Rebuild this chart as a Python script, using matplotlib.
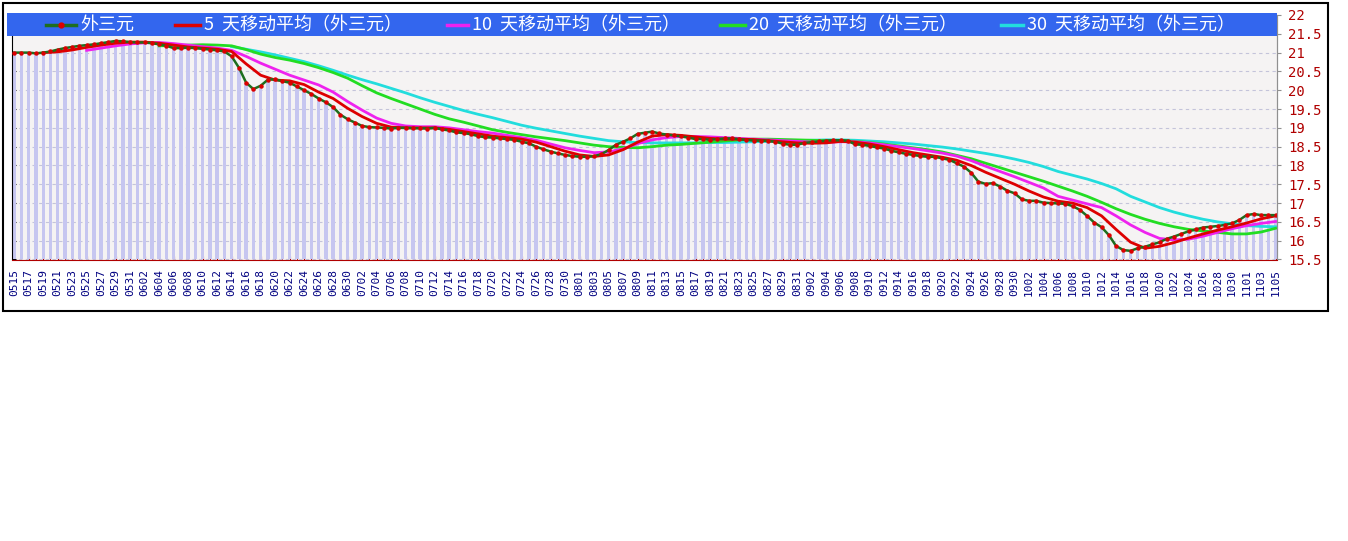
import numpy as np
import pandas as pd
import matplotlib
matplotlib.use('Agg')
import matplotlib.pyplot as plt
from matplotlib.patches import Rectangle
from matplotlib.lines import Line2D

plt.rcParams['font.family'] = ['Noto Sans CJK SC', 'DejaVu Sans']

# 日期 0515 ~ 1105，逐日
dates = pd.date_range('2020-05-15', '2020-11-05', freq='D')
date_labels = [d.strftime('%m%d') for d in dates]

# 外三元 日价格
price = [21.0, 21.0, 21.0, 20.98, 21.0, 21.03, 21.08, 21.12, 21.15, 21.18,
         21.2, 21.22, 21.25, 21.28, 21.31, 21.3, 21.28, 21.27, 21.27, 21.25,
         21.22, 21.18, 21.12, 21.12, 21.13, 21.12, 21.1, 21.08, 21.06, 21.03,
         20.9, 20.6, 20.2, 20.03, 20.12, 20.28, 20.29, 20.24, 20.2, 20.1,
         20.0, 19.9, 19.78, 19.68, 19.55, 19.35, 19.23, 19.14, 19.05, 19.02,
         19.01, 19.0, 18.98, 19.0, 19.0, 18.99, 18.99, 18.98, 19.0, 18.96,
         18.93, 18.88, 18.86, 18.83, 18.78, 18.75, 18.74, 18.72, 18.7, 18.68,
         18.63, 18.59, 18.5, 18.43, 18.37, 18.32, 18.28, 18.25, 18.23, 18.23,
         18.25, 18.3, 18.41, 18.55, 18.63, 18.72, 18.84, 18.87, 18.9, 18.85,
         18.82, 18.8, 18.77, 18.74, 18.7, 18.7, 18.68, 18.7, 18.72, 18.72,
         18.7, 18.68, 18.66, 18.66, 18.65, 18.63, 18.58, 18.55, 18.55, 18.6,
         18.62, 18.64, 18.66, 18.67, 18.67, 18.66, 18.56, 18.55, 18.52, 18.48,
         18.45, 18.39, 18.35, 18.31, 18.28, 18.25, 18.23, 18.23, 18.19, 18.15,
         18.06, 17.97, 17.81, 17.57, 17.51, 17.53, 17.44, 17.33, 17.26, 17.1,
         17.06, 17.06, 17.01, 17.0, 16.99, 16.98, 16.92, 16.82, 16.66, 16.48,
         16.36, 16.15, 15.86, 15.75, 15.73, 15.8, 15.84, 15.9, 15.96, 16.05,
         16.11, 16.18, 16.25, 16.3, 16.35, 16.37, 16.39, 16.42, 16.46, 16.55,
         16.68, 16.71, 16.68, 16.68, 16.68]

# 移动平均线 (隔日估读)
ma5_start = 4
ma5 = [21.0, 21.02, 21.07, 21.14, 21.2, 21.25, 21.28, 21.28, 21.25, 21.2,
       21.15, 21.12, 21.09, 21.03, 20.7, 20.4, 20.27, 20.25, 20.15, 19.95,
       19.78, 19.52, 19.3, 19.12, 19.02, 19.0, 19.0, 19.0, 18.96, 18.9,
       18.84, 18.78, 18.74, 18.7, 18.62, 18.5, 18.38, 18.28, 18.24, 18.28,
       18.42, 18.62, 18.78, 18.82, 18.8, 18.76, 18.72, 18.7, 18.7, 18.69,
       18.66, 18.63, 18.6, 18.59, 18.6, 18.64, 18.62, 18.57, 18.5, 18.42,
       18.34, 18.28, 18.22, 18.14, 18.0, 17.82, 17.66, 17.5, 17.32, 17.16,
       17.05, 17.0, 16.88, 16.66, 16.3, 15.96, 15.8, 15.85, 15.95, 16.07,
       16.18, 16.28, 16.37, 16.47, 16.58, 16.66]

ma10_start = 10
ma10 = [21.06, 21.12, 21.18, 21.23, 21.26, 21.27, 21.24, 21.2, 21.16, 21.12,
        21.06, 20.9, 20.72, 20.56, 20.4, 20.27, 20.14, 19.95, 19.7, 19.47,
        19.26, 19.12, 19.05, 19.03, 19.03, 19.0, 18.95, 18.9, 18.86, 18.8,
        18.74, 18.67, 18.57, 18.47, 18.4, 18.34, 18.36, 18.44, 18.58, 18.68,
        18.74, 18.77, 18.77, 18.76, 18.74, 18.72, 18.7, 18.68, 18.66, 18.64,
        18.62, 18.62, 18.63, 18.63, 18.6, 18.55, 18.5, 18.45, 18.39, 18.33,
        18.25, 18.13, 17.98, 17.84, 17.7, 17.55, 17.4, 17.18, 17.08, 16.98,
        16.88, 16.66, 16.42, 16.22, 16.06, 16.02, 16.04, 16.12, 16.22, 16.32,
        16.4, 16.46, 16.51]

ma20_start = 20
ma20 = [21.18, 21.19, 21.2, 21.21, 21.2, 21.18, 21.08, 20.96, 20.87, 20.8,
        20.71, 20.6, 20.47, 20.32, 20.12, 19.93, 19.78, 19.64, 19.5, 19.36,
        19.24, 19.15, 19.05, 18.95, 18.88, 18.82, 18.76, 18.71, 18.66, 18.6,
        18.54, 18.5, 18.48, 18.47, 18.5, 18.54, 18.56, 18.59, 18.62, 18.65,
        18.68, 18.7, 18.7, 18.69, 18.68, 18.67, 18.66, 18.66, 18.64, 18.61,
        18.57, 18.52, 18.47, 18.42, 18.36, 18.27, 18.18, 18.06, 17.94, 17.82,
        17.7, 17.58, 17.45, 17.32, 17.18, 17.02, 16.85, 16.7, 16.57, 16.46,
        16.37, 16.3, 16.26, 16.22, 16.18, 16.18, 16.23, 16.33]

ma30_start = 30
ma30 = [21.16, 21.09, 21.02, 20.94, 20.85, 20.76, 20.65, 20.53, 20.4, 20.28,
        20.17, 20.05, 19.93, 19.8, 19.68, 19.57, 19.46, 19.36, 19.27, 19.17,
        19.07, 18.99, 18.92, 18.85, 18.78, 18.72, 18.66, 18.63, 18.61, 18.6,
        18.6, 18.6, 18.6, 18.61, 18.61, 18.62, 18.63, 18.64, 18.65, 18.66,
        18.67, 18.68, 18.68, 18.67, 18.65, 18.63, 18.6, 18.57, 18.53, 18.49,
        18.44, 18.38, 18.32, 18.25, 18.17, 18.08, 17.97, 17.84, 17.74, 17.64,
        17.52, 17.38, 17.18, 17.03, 16.88, 16.76, 16.66, 16.57, 16.5, 16.45,
        16.4, 16.38, 16.37]

names = ['外三元', '5  天移动平均（外三元）', '10  天移动平均（外三元）',
         '20  天移动平均（外三元）', '30  天移动平均（外三元）']
colors = ['#1E6E1E', '#DD0000', '#EE22EE', '#22DD22', '#22DDDD']

W, H = 1348, 541
fig = plt.figure(figsize=(W / 100, H / 100), dpi=100)
fig.patch.set_facecolor('white')

def fx(px):
    return px / W

def fy(py):
    return 1 - py / H

ax = fig.add_axes([fx(12), fy(259.5), fx(1277) - fx(12), (259.5 - 15) / H])
ax.set_facecolor('#F5F3F3')

x = np.arange(len(dates))
price = np.array(price)
ax.bar(x, price - 15.5, bottom=15.5, width=0.46, color='#C6C6F0', zorder=2)

# 均线
for vals, start, c in [(ma30, ma30_start, colors[4]), (ma20, ma20_start, colors[3]),
                       (ma10, ma10_start, colors[2]), (ma5, ma5_start, colors[1])]:
    xi = np.arange(start, start + 2 * len(vals), 2)
    ax.plot(xi, vals, color=c, lw=2, zorder=4)

ax.plot(x, price, color=colors[0], lw=1.8, marker='o', ms=2.2,
        mfc='#DD0000', mec='#DD0000', zorder=5)

ax.set_xlim(-0.3, 174.2)
ax.set_ylim(15.5, 22)
yt = np.arange(15.5, 22.01, 0.5)
ax.set_yticks(yt)
ax.yaxis.grid(True, ls=(0, (3, 3)), color='#C4C4DA', lw=0.8, zorder=1)
ax.set_axisbelow(True)
ax.tick_params(axis='y', direction='in', length=3, color='black',
               left=True, right=False, labelleft=False)

ax.set_xticks(x[::2])
ax.set_xticklabels(date_labels[::2], rotation=90, family='DejaVu Sans Mono',
                   fontsize=8, color='#000080')
ax.set_xticks(x, minor=True)
ax.tick_params(axis='x', which='both', direction='in', length=3, color='#B00000',
               pad=7)

ax.spines['top'].set_visible(False)
ax.spines['bottom'].set_color('#B00000')
ax.spines['left'].set_color('black')
ax.spines['right'].set_color('#909090')

ax2 = ax.twinx()
ax2.set_ylim(15.5, 22)
ax2.set_yticks(yt)
ax2.set_yticklabels([f'{v:g}' for v in yt], family='DejaVu Sans Mono',
                    fontsize=10, color='#B00000')
ax2.tick_params(axis='y', direction='out', length=3, color='#909090', pad=5)
for s in ['top', 'left', 'bottom']:
    ax2.spines[s].set_visible(False)
ax2.spines['right'].set_color('#909090')

# 图例条
fig.patches.append(Rectangle((fx(7), fy(36)), fx(1277) - fx(7), (36 - 13) / H,
                             transform=fig.transFigure, facecolor='#3366EE',
                             edgecolor='none', zorder=10))
leg_pos = [(46, 76), (175, 200), (447, 468), (720, 745), (1001, 1023)]
ly = fy(25)
for (a, b), name, c in zip(leg_pos, names, colors):
    fig.add_artist(Line2D([fx(a), fx(b)], [ly, ly], transform=fig.transFigure,
                          color=c, lw=2.5, zorder=11))
    if name == '外三元':
        fig.add_artist(Line2D([fx((a + b) / 2)], [ly], transform=fig.transFigure,
                              marker='o', ms=3.5, color='#DD0000', zorder=12))
    fig.text(fx(b + 4), ly, name, color='white', fontsize=13, va='center',
             ha='left', zorder=12)

# 外框
fig.patches.append(Rectangle((fx(2.5), fy(310.5)), fx(1328) - fx(2.5), (310.5 - 3) / H,
                             transform=fig.transFigure, facecolor='none',
                             edgecolor='black', lw=1.5, zorder=9))

fig.savefig('out.png', dpi=100)
